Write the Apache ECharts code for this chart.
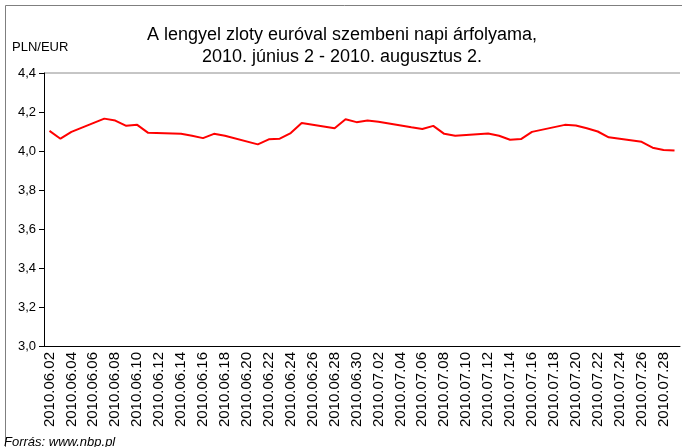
<!DOCTYPE html>
<html>
<head>
<meta charset="utf-8">
<script src="https://cdn.jsdelivr.net/npm/echarts@6/dist/echarts.min.js"></script>
<style>
  html, body { margin: 0; padding: 0; background: #fff; }
  #chart { width: 682px; height: 447px; }
</style>
</head>
<body>
<div id="chart"></div>
<script>
// ---- adatok: napi PLN/EUR árfolyam (hétvégén nincs jegyzés) ----
const DATES = [
  '2010.06.02', '2010.06.03', '2010.06.04', '2010.06.05', '2010.06.06', '2010.06.07', '2010.06.08',
  '2010.06.09', '2010.06.10', '2010.06.11', '2010.06.12', '2010.06.13', '2010.06.14', '2010.06.15',
  '2010.06.16', '2010.06.17', '2010.06.18', '2010.06.19', '2010.06.20', '2010.06.21', '2010.06.22',
  '2010.06.23', '2010.06.24', '2010.06.25', '2010.06.26', '2010.06.27', '2010.06.28', '2010.06.29',
  '2010.06.30', '2010.07.01', '2010.07.02', '2010.07.03', '2010.07.04', '2010.07.05', '2010.07.06',
  '2010.07.07', '2010.07.08', '2010.07.09', '2010.07.10', '2010.07.11', '2010.07.12', '2010.07.13',
  '2010.07.14', '2010.07.15', '2010.07.16', '2010.07.17', '2010.07.18', '2010.07.19', '2010.07.20',
  '2010.07.21', '2010.07.22', '2010.07.23', '2010.07.24', '2010.07.25', '2010.07.26', '2010.07.27',
  '2010.07.28', '2010.07.29',
];
const RATES = [
  4.103, 4.063, 4.098, null, null, 4.166, 4.156,
  4.129, 4.134, 4.093, null, null, 4.088, 4.078,
  4.066, 4.088, 4.078, null, null, 4.034, 4.060,
  4.063, 4.092, 4.144, null, null, 4.117, 4.163,
  4.148, 4.156, 4.150, null, null, 4.122, 4.113,
  4.129, 4.088, 4.078, null, null, 4.090, 4.078,
  4.058, 4.061, 4.098, null, null, 4.134, 4.131,
  4.117, 4.100, 4.070, null, null, 4.047, 4.017,
  4.005, 4.002,
];
const TITLE_LINES = ['A lengyel zloty euróval szembeni napi árfolyama,', '2010. június 2 - 2010. augusztus 2.'];
const UNIT = 'PLN/EUR';
const SOURCE = 'Forrás: www.nbp.pl';

const FONT = '"Liberation Sans", Arial, sans-serif';
const comma = v => v.toFixed(1).replace('.', ',');

const chart = echarts.init(document.getElementById('chart'), null, { renderer: 'canvas' });
chart.setOption({
  animation: false,
  backgroundColor: '#fff',
  title: {
    text: TITLE_LINES.join('\n'),
    left: 337, top: 19, textAlign: 'center',
    textStyle: { fontFamily: FONT, fontSize: 18, fontWeight: 'normal', color: '#000', lineHeight: 22 },
  },
  graphic: [
    { type: 'rect', left: 3, top: 3, shape: { width: 720, height: 480 },
      style: { fill: 'none', stroke: '#7f7f7f', lineWidth: 1 }, silent: true },
    { type: 'line', shape: { x1: 44, y1: 73, x2: 680, y2: 73 },
      style: { stroke: '#8c8c8c', lineWidth: 1 }, silent: true },
    { type: 'text', left: 12, top: 41,
      style: { text: UNIT, font: '13px ' + FONT, fill: '#000' } },
    { type: 'text', left: 4, top: 436,
      style: { text: SOURCE, font: 'italic 13px ' + FONT, fill: '#000' } },
  ],
  grid: { left: 44, right: 2, top: 73, bottom: 101, containLabel: false },
  xAxis: {
    type: 'category',
    data: DATES,
    boundaryGap: true,
    axisLine: { lineStyle: { color: '#000', width: 1 } },
    axisTick: { interval: 1, length: 5, lineStyle: { color: '#000' } },
    axisLabel: { interval: 1, rotate: 90, fontFamily: FONT, fontSize: 15, color: '#000', margin: 6 },
    splitLine: { show: false },
  },
  yAxis: {
    type: 'value',
    min: 3.0, max: 4.4, interval: 0.2,
    axisLine: { show: true, lineStyle: { color: '#000', width: 1 } },
    axisTick: { show: true, length: 5, lineStyle: { color: '#000' } },
    axisLabel: { formatter: comma, fontFamily: FONT, fontSize: 13, color: '#000', margin: 8 },
    splitLine: { show: false },
  },
  series: [{
    type: 'line',
    data: RATES,
    connectNulls: true,
    showSymbol: false,
    lineStyle: { color: '#ff0000', width: 2 },
  }],
});
</script>
</body>
</html>
